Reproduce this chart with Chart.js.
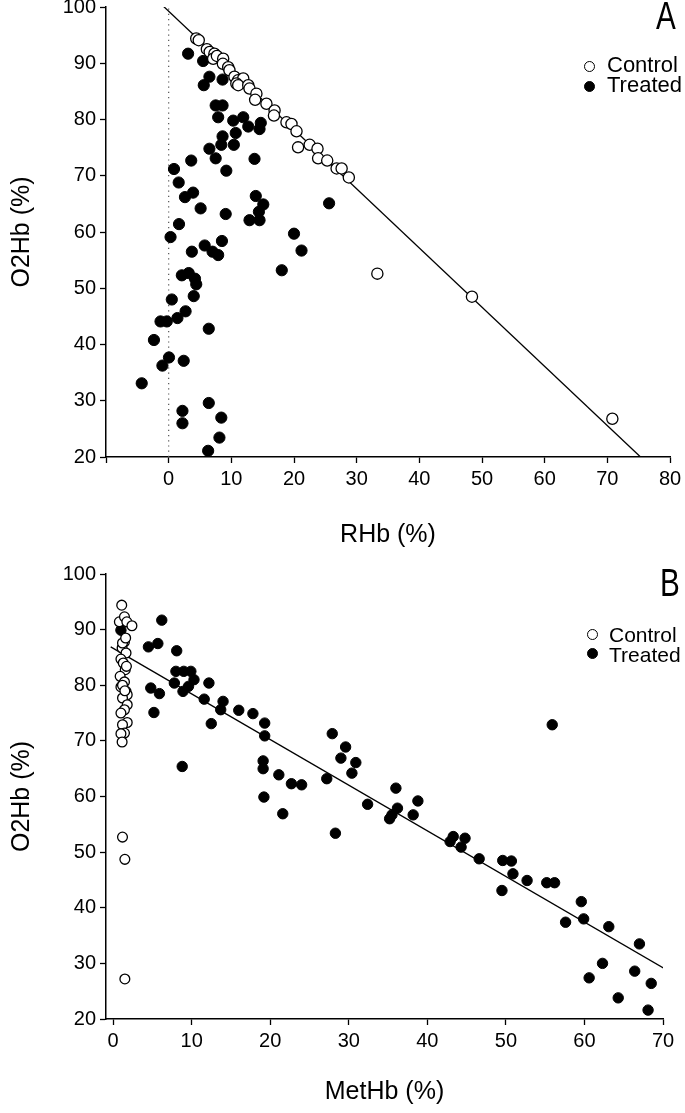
<!DOCTYPE html>
<html>
<head>
<meta charset="utf-8">
<title>O2Hb vs RHb / MetHb</title>
<script src="https://cdn.jsdelivr.net/npm/chart.js@4.4.1/dist/chart.umd.min.js"></script>
<style>
  html, body { margin: 0; padding: 0; background: #fff; }
  #page {
    position: relative;
    width: 685px;
    height: 1113px;
    overflow: hidden;
    font-family: "Liberation Sans", Arial, sans-serif;
    color: #000;
  }
  .panel { position: absolute; left: 0; width: 685px; }
  #panel-a { top: 0; height: 556px; }
  #panel-b { top: 556px; height: 557px; }
  .panel canvas { position: absolute; left: 0; top: 0; }
  .letter {
    position: absolute;
    font-size: 38px;
    line-height: 38px;
    transform: scaleX(0.78);
    transform-origin: left top;
  }
  .legend-text { position: absolute; white-space: nowrap; }
  .dot {
    position: absolute;
    width: 11px;
    height: 11px;
    border-radius: 50%;
    border: 1.3px solid #000;
    box-sizing: border-box;
  }
  .dot.open { background: #fff; }
  .dot.filled { background: #000; }
</style>
</head>
<body>
<div id="page">
  <div class="panel" id="panel-a">
    <canvas id="chartA" width="685" height="556" style="width:685px;height:556px"></canvas>
    <div class="letter" style="left:656px;top:-3px">A</div>
    <div class="dot open" style="left:583.5px;top:60.5px"></div>
    <div class="legend-text" style="left:607px;top:54px;font-size:22px;line-height:22px">Control</div>
    <div class="dot filled" style="left:583.5px;top:81px"></div>
    <div class="legend-text" style="left:607px;top:74px;font-size:22px;line-height:22px">Treated</div>
  </div>
  <div class="panel" id="panel-b">
    <canvas id="chartB" width="685" height="557" style="width:685px;height:557px"></canvas>
    <div class="letter" style="left:660px;top:8px">B</div>
    <div class="dot open" style="left:586.5px;top:72.5px"></div>
    <div class="legend-text" style="left:609px;top:67.5px;font-size:21px;line-height:21px">Control</div>
    <div class="dot filled" style="left:586.5px;top:91.5px"></div>
    <div class="legend-text" style="left:609px;top:87.5px;font-size:21px;line-height:21px">Treated</div>
  </div>
</div>
<script>
// Panel A: O2Hb against RHb
const controlA_RHb = [4.4, 4.8, 6.1, 6.55, 7.3, 7.1, 7.7, 8.7, 8.65, 9.5, 9.7, 10.5, 11.1, 11.9, 10.8, 11.1, 12.7, 12.9, 14.0, 13.8,
  15.6, 16.9, 16.8, 18.8, 19.6, 20.4, 20.65, 22.5, 23.75, 23.85, 25.3, 26.8, 27.6, 28.75, 33.3, 48.4, 70.8];
const controlA_O2Hb = [94.4, 94.1, 92.5, 92.0, 91.7, 90.8, 91.3, 90.8, 89.9, 89.3, 88.75, 87.6, 87.0, 87.3, 86.4, 86.1, 86.1, 85.5, 84.6, 83.5,
  82.8, 81.6, 80.7, 79.5, 79.2, 77.9, 75.05, 75.5, 74.8, 73.1, 72.7, 71.3, 71.3, 69.7, 52.6, 48.5, 26.8];

const treatedA_RHb = [3.1, 5.5, 6.5, 5.6, 8.6, 7.5, 8.6, 7.9, 10.3, 11.9, 12.7, 14.7, 14.5, 8.6, 10.7, 8.4, 10.4, 6.5, 7.5, 3.6,
  13.7, 0.85, 9.2, 1.6, 3.9, 2.6, 13.9, 5.1, 9.1, 15.1, 14.4, 12.9, 14.5, 25.6, 1.65, 0.3, 3.7, 5.75, 7.0, 7.9,
  8.5, 20.0, 21.2, 18.05, 2.1, 3.2, 4.2, 4.4, 4.0, 0.5, 2.7, 1.4, -1.3, -0.3, 6.4, -2.35, 0.05, -1.0, 2.4, -4.3,
  6.4, 2.2, 8.4, 2.2, 8.1, 6.3];
const treatedA_O2Hb = [91.7, 90.4, 87.6, 86.1, 87.1, 82.5, 82.5, 80.4, 79.8, 80.4, 78.75, 79.4, 78.3, 77.0, 77.6, 75.5, 75.5, 74.8, 73.1, 72.7,
  73.0, 71.2, 70.9, 68.8, 67.0, 66.2, 66.4, 64.2, 63.2, 64.9, 63.6, 62.1, 62.1, 65.1, 61.4, 59.1, 56.5, 57.6, 56.5, 55.9,
  58.4, 59.7, 56.7, 53.2, 52.3, 52.7, 51.7, 50.7, 48.6, 48.0, 45.9, 44.7, 44.1, 44.1, 42.8, 40.8, 37.7, 36.25, 37.1, 33.1,
  29.6, 28.2, 27.0, 26.0, 23.45, 21.1];

// fitted line and the dotted zero line of panel A
const fitA_RHb = [-1, 75.3];
const fitA_O2Hb = [100.3, 20];
const zeroA_RHb = [0, 0];
const zeroA_O2Hb = [20, 100];

const ticksA_x = [-10, 0, 10, 20, 30, 40, 50, 60, 70, 80];
const ticksA_y = [20, 30, 40, 50, 60, 70, 80, 90, 100];

// Panel B: O2Hb against MetHb
const controlB_MetHb = [1.1, 0.8, 1.45, 1.75, 2.4, 1.45, 1.15, 1.65, 1.0, 1.55, 0.9, 1.45, 1.0, 1.65, 1.8, 1.2, 1.8, 1.45, 1.0, 1.8,
  1.2, 1.45, 1.0, 1.15, 1.2, 1.6, 1.3, 1.7, 1.2, 1.5, 1.2, 1.5, 1.5];
const controlB_O2Hb = [94.4, 91.4, 92.3, 91.4, 90.7, 87.8, 86.7, 85.8, 84.7, 82.8, 81.6, 80.6, 79.7, 78.9, 78.3, 77.7, 76.5, 75.6, 75.0, 73.3,
  72.9, 71.4, 71.3, 69.8, 87.6, 88.5, 84.0, 83.4, 80.0, 79.0, 52.7, 48.7, 27.2];

const treatedB_MetHb = [1.0, 6.2, 4.5, 5.7, 8.1, 8.0, 9.0, 9.9, 7.8, 10.3, 9.6, 8.9, 12.2, 4.8, 5.9, 11.6, 14.0, 13.7, 16.0, 17.8,
  5.2, 12.5, 19.3, 19.3, 8.8, 19.1, 19.1, 19.2, 21.1, 22.7, 24.0, 21.6, 27.2, 27.9, 29.6, 29.0, 30.9, 30.4, 28.3, 32.4,
  36.0, 38.8, 36.2, 35.5, 35.2, 38.2, 43.3, 42.9, 44.8, 44.3, 46.6, 49.6, 50.7, 50.9, 49.5, 52.7, 55.2, 56.2, 55.9, 59.6,
  59.9, 57.6, 63.1, 67.0, 62.3, 60.6, 66.4, 68.5, 64.3, 68.1];
const treatedB_O2Hb = [89.9, 91.7, 86.9, 87.5, 86.2, 82.5, 82.5, 82.5, 80.4, 81.0, 79.8, 78.9, 80.4, 79.5, 78.5, 77.5, 77.1, 75.6, 75.5, 74.9,
  75.1, 73.1, 73.2, 70.9, 65.4, 66.4, 65.0, 59.9, 63.9, 62.3, 62.1, 56.9, 63.2, 71.3, 68.9, 66.9, 66.1, 64.2, 53.4, 58.6,
  61.5, 59.2, 57.9, 56.7, 56.0, 56.7, 52.8, 51.9, 52.5, 50.9, 48.8, 48.5, 48.4, 46.1, 43.1, 44.9, 44.5, 44.5, 72.9, 41.1,
  38.0, 37.4, 36.6, 33.5, 30.0, 27.4, 28.6, 26.4, 23.8, 21.6];

const fitB_MetHb = [-0.3, 70.4];
const fitB_O2Hb = [86.9, 28.9];

const ticksB_x = [0, 10, 20, 30, 40, 50, 60, 70];
const ticksB_y = [20, 30, 40, 50, 60, 70, 80, 90, 100];

const FONT = "'Liberation Sans', Arial, sans-serif";

const toPoints = (xs, ys) => xs.map((x, i) => ({ x, y: ys[i] }));

const makeAxis = (cfg) => ({
  type: "linear",
  min: cfg.min,
  max: cfg.max,
  afterBuildTicks: (scale) => {
    scale.ticks = cfg.ticks.map((v) => ({ value: v }));
  },
  afterFit: (scale) => {
    if (cfg.width) scale.width = cfg.width;
    if (cfg.height) scale.height = cfg.height;
    scale.paddingTop = 0;
    scale.paddingBottom = 0;
    scale.paddingLeft = 0;
    scale.paddingRight = 0;
  },
  ticks: {
    color: "#000",
    font: { family: FONT, size: 20 },
    padding: 4,
    autoSkip: false,
    maxRotation: 0,
    callback: (v) => (cfg.hidden && cfg.hidden.includes(v) ? "" : String(v)),
  },
  grid: {
    drawOnChartArea: false,
    drawTicks: true,
    tickLength: 6,
    tickColor: "#000",
    tickWidth: 1.3,
  },
  border: { display: true, color: "#000", width: 1.5 },
  title: {
    display: true,
    text: cfg.title,
    color: "#000",
    font: { family: FONT, size: 25 },
    padding: cfg.titlePadding,
  },
});

const makeChart = (id, opts) => {
  const ctx = document.getElementById(id).getContext("2d");
  const datasets = [
    {
      label: "Control",
      data: toPoints(opts.controlX, opts.controlY),
      backgroundColor: "#fff",
      borderColor: "#000",
      borderWidth: 1.3,
      pointRadius: opts.openRadius,
      pointHoverRadius: opts.openRadius,
      order: 0,
    },
    {
      label: "Treated",
      data: toPoints(opts.treatedX, opts.treatedY),
      backgroundColor: "#000",
      borderColor: "#000",
      borderWidth: 1,
      pointRadius: opts.filledRadius,
      pointHoverRadius: opts.filledRadius,
      order: 1,
    },
    {
      label: "Fit",
      data: toPoints(opts.fitX, opts.fitY),
      showLine: true,
      borderColor: "#000",
      borderWidth: 1.3,
      pointRadius: 0,
      fill: false,
      order: 2,
    },
  ];
  if (opts.zeroX) {
    datasets.push({
      label: "Zero",
      data: toPoints(opts.zeroX, opts.zeroY),
      showLine: true,
      borderColor: "#555",
      borderWidth: 1.2,
      borderDash: [1.2, 4],
      pointRadius: 0,
      fill: false,
      order: 3,
    });
  }

  return new Chart(ctx, {
    type: "scatter",
    data: { datasets },
    options: {
      responsive: false,
      devicePixelRatio: 1,
      animation: false,
      events: [],
      layout: { padding: opts.padding },
      plugins: {
        legend: { display: false },
        tooltip: { enabled: false },
      },
      scales: {
        x: makeAxis(opts.x),
        y: makeAxis(opts.y),
      },
    },
  });
};

makeChart("chartA", {
  controlX: controlA_RHb,
  controlY: controlA_O2Hb,
  treatedX: treatedA_RHb,
  treatedY: treatedA_O2Hb,
  fitX: fitA_RHb,
  fitY: fitA_O2Hb,
  zeroX: zeroA_RHb,
  zeroY: zeroA_O2Hb,
  openRadius: 5.6,
  filledRadius: 5.6,
  padding: { top: 7, right: 15, bottom: 0, left: 0 },
  x: { min: -10, max: 80, ticks: ticksA_x, hidden: [-10], height: 99, title: "RHb (%)", titlePadding: { top: 0, bottom: 6 } },
  y: { min: 20, max: 100, ticks: ticksA_y, width: 106, title: "O2Hb (%)", titlePadding: { top: 7, bottom: 0 } },
});

makeChart("chartB", {
  controlX: controlB_MetHb,
  controlY: controlB_O2Hb,
  treatedX: treatedB_MetHb,
  treatedY: treatedB_O2Hb,
  fitX: fitB_MetHb,
  fitY: fitB_O2Hb,
  openRadius: 4.9,
  filledRadius: 5.2,
  padding: { top: 18, right: 22, bottom: 0, left: 0 },
  x: { min: -0.9, max: 70, ticks: ticksB_x, height: 94, title: "MetHb (%)", titlePadding: { top: 0, bottom: 6 } },
  y: { min: 20, max: 100, ticks: ticksB_y, width: 106, title: "O2Hb (%)", titlePadding: { top: 7, bottom: 0 } },
});
</script>
</body>
</html>
